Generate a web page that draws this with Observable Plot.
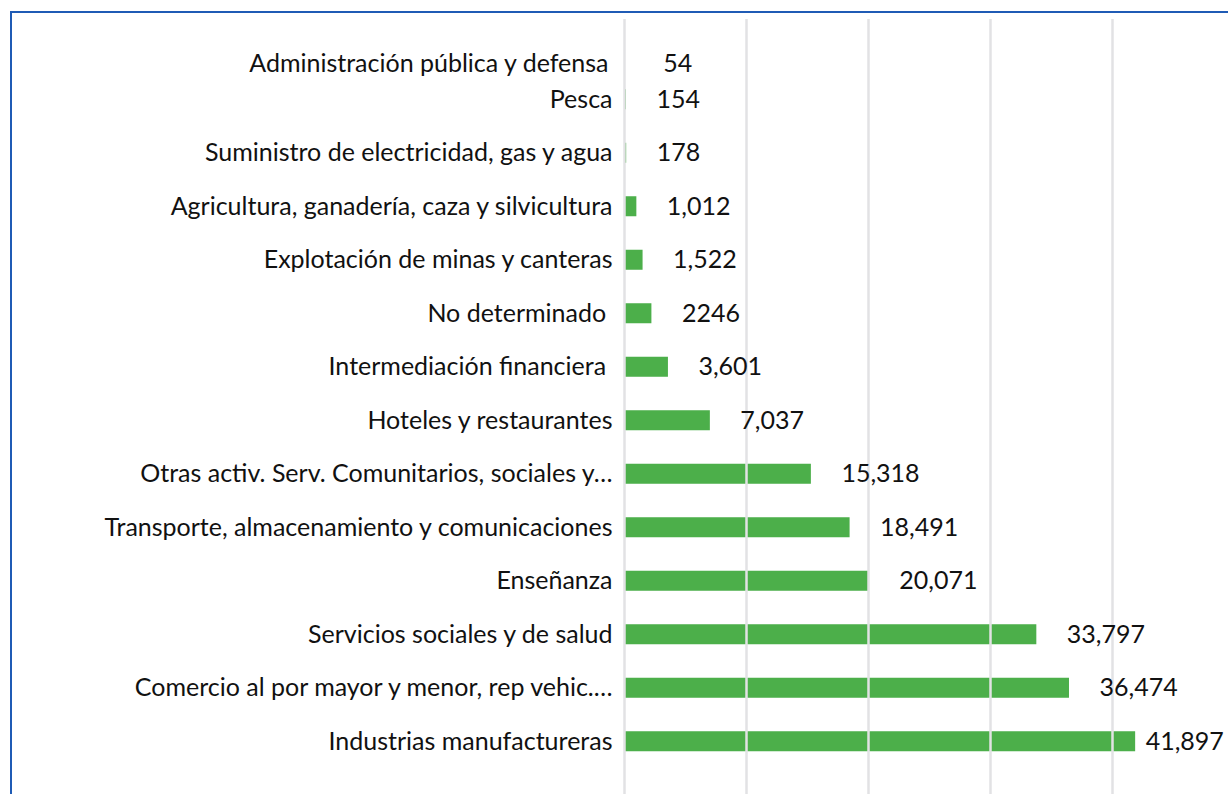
<!DOCTYPE html>
<html>
<head>
<meta charset="utf-8">
<script src="https://cdn.jsdelivr.net/npm/d3@7"></script>
<script src="https://cdn.jsdelivr.net/npm/@observablehq/plot@0.6"></script>
<style>
  html, body { margin: 0; padding: 0; background: #fff; overflow: hidden; }
  #wrap { position: relative; width: 1228px; height: 794px; overflow: hidden; }
  #frame { position: absolute; left: 10px; top: 11px; width: 1400px; height: 1000px;
           border-top: 2px solid #1f5bb5; border-left: 2px solid #1f5bb5; box-sizing: border-box; }
  #chart { position: absolute; left: 0; top: 0; }
  svg { font-family: Lato, "Open Sans", sans-serif; }
</style>
</head>
<body>
<div id="wrap"><div id="frame"></div><div id="chart"></div></div>
<script>
const categories = [
  "Administración pública y defensa",
  "Pesca",
  "Suministro de electricidad, gas y agua",
  "Agricultura, ganadería, caza y silvicultura",
  "Explotación de minas y canteras",
  "No determinado ",
  "Intermediación financiera ",
  "Hoteles y restaurantes",
  "Otras activ. Serv. Comunitarios, sociales y…",
  "Transporte, almacenamiento y comunicaciones",
  "Enseñanza",
  "Servicios sociales y de salud",
  "Comercio al por mayor y menor, rep vehic.…",
  "Industrias manufactureras"
];
const values = [54, 154, 178, 1012, 1522, 2246, 3601, 7037, 15318, 18491, 20071, 33797, 36474, 41897];
const valueLabels = ["54", "154", "178", "1,012", "1,522", "2246", "3,601", "7,037", "15,318", "18,491", "20,071", "33,797", "36,474", "41,897"];
const gridTicks = [0, 10000, 20000, 30000, 40000];

const data = categories.map((c, i) => ({cat: c, value: values[i], label: valueLabels[i]}));
const first = data.slice(0, 1);
const rest = data.slice(1);
const restNormal = rest.filter(d => d.value < 40000);
const restBig = rest.filter(d => d.value >= 40000);

const green = "#4caf4a";
const ink = "#111";
const fs = 25;

const plot = Plot.plot({
  width: 1228,
  height: 794,
  marginLeft: 624,
  marginRight: 0,
  marginTop: 19,
  marginBottom: 0,
  x: {domain: [0, 49508], axis: null},
  y: {domain: categories, range: [19, 768], paddingInner: 0.626, paddingOuter: 0.313, round: false, axis: null},
  style: {fontFamily: "Lato, 'Open Sans', sans-serif", fontSize: fs + "px", color: ink, background: "transparent"},
  marks: [
    Plot.barX(data, {x: "value", y: "cat", fill: green}),
    Plot.ruleX(gridTicks, {stroke: "#e2e2e4", strokeWidth: 2.5}),
    // category labels
    Plot.text(rest, {x: 0, y: "cat", text: "cat", textAnchor: "end", dx: -12, fill: ink, fontSize: fs}),
    Plot.text(first, {x: 0, y: "cat", text: "cat", textAnchor: "end", dx: -16, dy: 18, fill: ink, fontSize: fs}),
    // value labels
    Plot.text(restNormal, {x: "value", y: "cat", text: "label", textAnchor: "start", dx: 30, fill: ink, fontSize: fs}),
    Plot.text(restBig, {x: "value", y: "cat", text: "label", textAnchor: "start", dx: 10, fill: ink, fontSize: fs}),
    Plot.text(first, {x: "value", y: "cat", text: "label", textAnchor: "start", dx: 38, dy: 18, fill: ink, fontSize: fs})
  ]
});
document.getElementById("chart").appendChild(plot);
</script>
</body>
</html>
